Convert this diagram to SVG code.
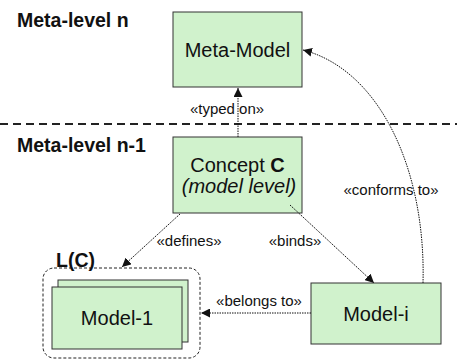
<svg xmlns="http://www.w3.org/2000/svg" width="457" height="362" viewBox="0 0 457 362">
<style>
.box{fill:#d0f2cc;stroke:#333;stroke-width:1}
.big{font-family:"Liberation Sans",Arial,sans-serif;font-size:20px;fill:#111;text-anchor:middle}
.head{font-family:"Liberation Sans",Arial,sans-serif;font-size:19.5px;font-weight:bold;fill:#111}
.lbl{font-family:"Liberation Sans",Arial,sans-serif;font-size:15px;fill:#111;text-anchor:middle}
.con{fill:none;stroke:#111;stroke-width:1;stroke-dasharray:1.5 1}
</style>
<defs>
<marker id="ah" viewBox="0 0 10 10" refX="10" refY="5" markerWidth="9" markerHeight="9" markerUnits="userSpaceOnUse" orient="auto">
<path d="M0,0 L10,5 L0,10 z" fill="#111"/>
</marker>
</defs>
<g id="levels">
<line x1="0" y1="124" x2="457" y2="124" stroke="#222" stroke-width="2" stroke-dasharray="8 5"/>
<text class="head" x="17" y="27">Meta-level n</text>
<text class="head" x="17" y="152">Meta-level n-1</text>
</g>
<g id="meta-model">
<rect class="box" x="173" y="12" width="129" height="75"/>
<text class="big" x="237.5" y="57">Meta-Model</text>
</g>
<g id="concept">
<rect class="box" x="173" y="137" width="129" height="76"/>
<text class="big" x="237.5" y="172">Concept <tspan font-weight="bold">C</tspan></text>
<text class="big" x="239" y="193" font-style="italic">(model level)</text>
</g>
<g id="lc">
<rect x="43" y="268" width="157" height="90" rx="11" ry="11" fill="none" stroke="#222" stroke-width="1" stroke-dasharray="3 2"/>
<text class="head" x="56" y="267" font-size="21px">L(C)</text>
<rect class="box" x="58" y="280" width="130" height="62"/>
<rect class="box" x="52" y="287" width="130" height="62"/>
<text class="big" x="117" y="325">Model-1</text>
</g>
<g id="model-i">
<rect class="box" x="311" y="283" width="130" height="61"/>
<text class="big" x="376" y="321">Model-i</text>
</g>
<g id="connectors">
<line class="con" x1="238" y1="137" x2="238" y2="88" marker-end="url(#ah)"/>
<text class="lbl" x="227" y="114">«typed on»</text>
<path class="con" d="M423,283 C426,170 380,70 303,50" marker-end="url(#ah)"/>
<text class="lbl" x="391" y="195">«conforms to»</text>
<line class="con" x1="180" y1="214" x2="122" y2="267" marker-end="url(#ah)"/>
<text class="lbl" x="189" y="246">«defines»</text>
<line class="con" x1="290" y1="205" x2="374" y2="283" marker-end="url(#ah)"/>
<text class="lbl" x="295" y="246">«binds»</text>
<line class="con" x1="311" y1="313" x2="201" y2="313" marker-end="url(#ah)"/>
<text class="lbl" x="259" y="306">«belongs to»</text>
</g>
</svg>
